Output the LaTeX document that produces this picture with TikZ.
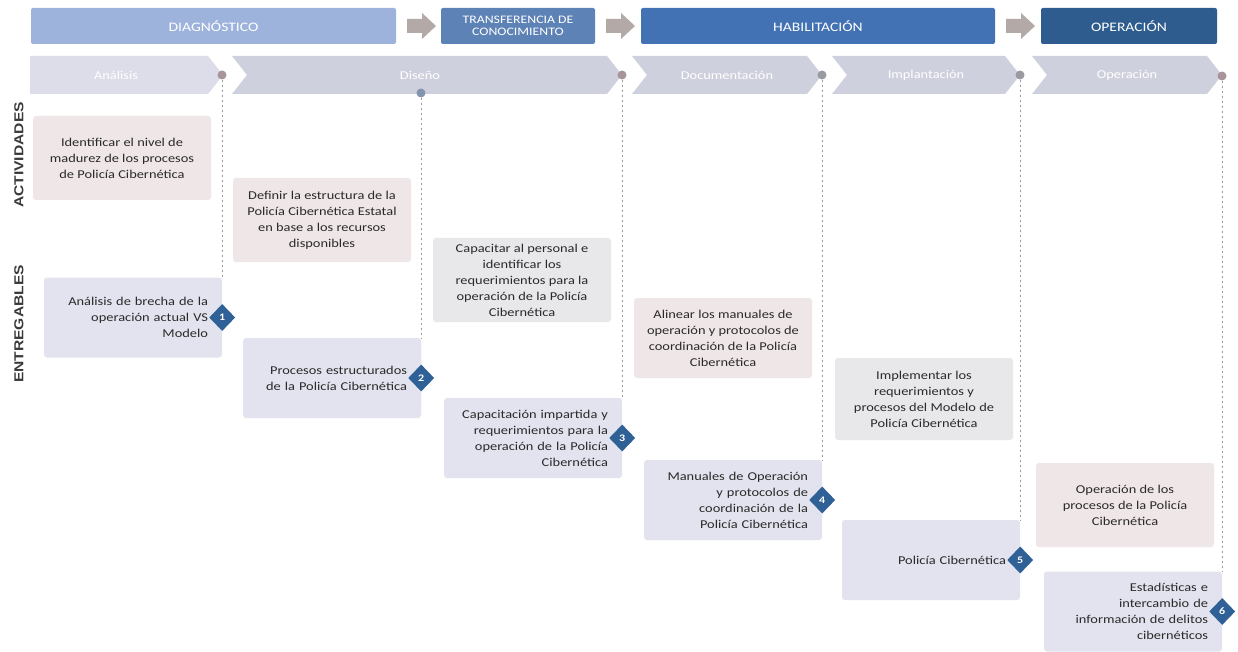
\documentclass[tikz,border=0pt]{standalone}
\usepackage{fontspec}
\setmainfont{Carlito}[FakeStretch=1.2]
\newfontfamily\labelfont{Liberation Sans}[FakeStretch=1.2]
\usetikzlibrary{shapes.geometric}
\definecolor{diagc}{HTML}{9EB3DB}
\definecolor{transc}{HTML}{5D82B6}
\definecolor{habilc}{HTML}{4272B3}
\definecolor{operc}{HTML}{2E5C8E}
\definecolor{arrc}{HTML}{B3A9A7}
\definecolor{chevAc}{HTML}{DCDDE8}
\definecolor{chevc}{HTML}{CFD0DD}
\definecolor{actc}{HTML}{EFE6E7}
\definecolor{actgc}{HTML}{E8E7EA}
\definecolor{entc}{HTML}{E2E3EE}
\definecolor{diamc}{HTML}{2F6096}
\definecolor{dotred}{HTML}{A8959A}
\definecolor{dotblue}{HTML}{8494AE}
\definecolor{dotgray}{HTML}{9A9BA0}
\definecolor{txtc}{HTML}{2A2A2A}
\definecolor{lblc}{HTML}{3A3A3A}
\definecolor{dashc}{HTML}{9A9A9A}
\begin{document}
\begin{tikzpicture}[x=1pt,y=-1pt,
  bar/.style={rounded corners=2pt, minimum height=36pt, inner sep=0pt, text=white,
    font=\fontsize{13}{13}\selectfont, align=center},
  chevtxt/.style={text=white, font=\fontsize{12}{13}\selectfont, inner sep=0pt},
  actbox/.style={rounded corners=3pt, fill=actc, minimum width=178pt, minimum height=84pt,
    inner sep=0pt, align=center, text=txtc, font=\fontsize{12}{16}\selectfont},
  entbox/.style={rounded corners=3pt, fill=entc, minimum width=178pt, minimum height=80pt,
    inner xsep=0pt, text width=150pt, align=right, text=txtc, font=\fontsize{12}{16}\selectfont},
  num/.style={diamond, fill=diamc, minimum width=26pt, minimum height=27pt, inner sep=0pt,
    text=white, font=\fontsize{10}{10}\selectfont\bfseries},
  dotn/.style={circle, minimum size=9pt, inner sep=0pt},
  guide/.style={draw=dashc, line width=0.7pt, dash pattern=on 2pt off 3pt},
  sidelbl/.style={rotate=90, text=lblc, font=\labelfont\bfseries\fontsize{13}{13}\selectfont, inner sep=0pt}
]
\useasboundingbox[fill=white] (0,0) rectangle (1238,652);

% top phase bars
\node[bar, fill=diagc, minimum width=365pt] (pDiag) at (213.5,26) {DIAGNÓSTICO};
\node[bar, fill=transc, minimum width=154pt, font=\fontsize{11.5}{12.5}\selectfont] (pTrans) at (518,26) {TRANSFERENCIA DE\\CONOCIMIENTO};
\node[bar, fill=habilc, minimum width=354pt] (pHab) at (818,26) {HABILITACIÓN};
\node[bar, fill=operc, minimum width=176pt] (pOper) at (1129,26) {OPERACIÓN};
% grey arrows between bars
\foreach \ax in {407,606,1006}{
  \fill[arrc] (\ax,19) -- (\ax+15,19) -- (\ax+15,13) -- (\ax+29,26) -- (\ax+15,39) -- (\ax+15,33) -- (\ax,33) -- cycle;
}

% chevrons
\fill[chevAc] (30,56) -- (208,56) -- (223,75) -- (208,94) -- (30,94) -- cycle;
\fill[chevc] (232,56) -- (607,56) -- (622,75) -- (607,94) -- (232,94) -- (247,75) -- cycle;
\fill[chevc] (632,56) -- (807,56) -- (822,75) -- (807,94) -- (632,94) -- (647,75) -- cycle;
\fill[chevc] (832,56) -- (1005,56) -- (1020,75) -- (1005,94) -- (832,94) -- (847,75) -- cycle;
\fill[chevc] (1032,56) -- (1207,56) -- (1222,75) -- (1207,94) -- (1032,94) -- (1047,75) -- cycle;
\node[chevtxt] (cAn) at (116,75) {Análisis};
\node[chevtxt] (cDi) at (420,75) {Diseño};
\node[chevtxt] (cDo) at (727,75) {Documentación};
\node[chevtxt] (cIm) at (926,75) {Implantación};
\node[chevtxt] (cOp) at (1127,75) {Operación};

% side labels
\node[sidelbl] (lAct) at (19,155) {ACTIVIDADES};
\node[sidelbl] (lEnt) at (19,324) {ENTREGABLES};

% activity boxes
\node[actbox] (a1) at (122,158) {Identificar el nivel de\\madurez de los procesos\\de Policía Cibernética};
\node[actbox] (a2) at (322,220) {Definir la estructura de la\\Policía Cibernética Estatal\\en base a los recursos\\disponibles};
\node[actbox, fill=actgc] (a3) at (522,280) {Capacitar al personal e\\identificar los\\requerimientos para la\\operación de la Policía\\Cibernética};
\node[actbox, minimum height=80pt] (a4) at (723,338) {Alinear los manuales de\\operación y protocolos de\\coordinación de la Policía\\Cibernética};
\node[actbox, fill=actgc, minimum height=82pt] (a5) at (924,399) {Implementar los\\requerimientos y\\procesos del Modelo de\\Policía Cibernética};
\node[actbox] (a6) at (1125,505) {Operación de los\\procesos de la Policía\\Cibernética};

% deliverable boxes
\node[entbox] (e1) at (133,317.5) {Análisis de brecha de la\\operación actual VS\\Modelo};
\node[entbox] (e2) at (332,378) {Procesos estructurados\\de la Policía Cibernética};
\node[entbox] (e3) at (533,438) {Capacitación impartida y\\requerimientos para la\\operación de la Policía\\Cibernética};
\node[entbox] (e4) at (733,500) {Manuales de Operación\\y protocolos de\\coordinación de la\\Policía Cibernética};
\node[entbox] (e5) at (931,560) {Policía Cibernética};
\node[entbox] (e6) at (1133,611.5) {Estadísticas e\\intercambio de\\información de delitos\\cibernéticos};

% milestone dots
\node[dotn, fill=dotred] (d1) at (222,75) {};
\node[dotn, fill=dotblue] (d2) at (421,93) {};
\node[dotn, fill=dotred] (d3) at (622,75) {};
\node[dotn, fill=dotgray] (d4) at (822,75) {};
\node[dotn, fill=dotgray] (d5) at (1020,75) {};
\node[dotn, fill=dotred] (d6) at (1222,76) {};

% dashed guides
\draw[guide] (d1.south) -- (d1.south |- e1.north);
\draw[guide] (d2.south) -- (d2.south |- e2.north);
\draw[guide] (d3.south) -- (d3.south |- e3.north);
\draw[guide] (d4.south) -- (d4.south |- e4.north);
\draw[guide] (d5.south) -- (d5.south |- e5.north);
\draw[guide] (d6.south) -- (d6.south |- e6.north);

% numbered diamonds
\node[num] (n1) at (e1.east) {1};
\node[num] (n2) at (e2.east) {2};
\node[num] (n3) at (e3.east) {3};
\node[num] (n4) at (e4.east) {4};
\node[num] (n5) at (e5.east) {5};
\node[num] (n6) at (e6.east) {6};
\end{tikzpicture}
\end{document}
